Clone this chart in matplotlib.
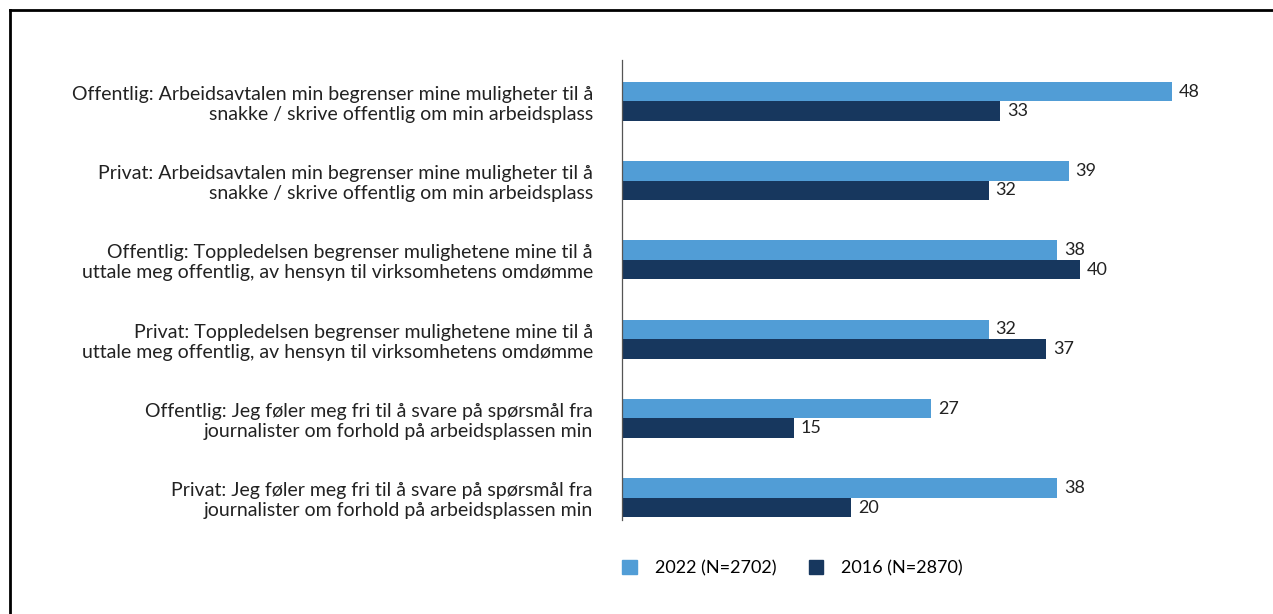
import matplotlib.pyplot as plt
from matplotlib.patches import Patch
from matplotlib.lines import Line2D
import numpy as np

plt.rcParams['font.family'] = ['Lato', 'DejaVu Sans']

labels = [
    "Offentlig: Arbeidsavtalen min begrenser mine muligheter til å\nsnakke / skrive offentlig om min arbeidsplass",
    "Privat: Arbeidsavtalen min begrenser mine muligheter til å\nsnakke / skrive offentlig om min arbeidsplass",
    "Offentlig: Toppledelsen begrenser mulighetene mine til å\nuttale meg offentlig, av hensyn til virksomhetens omdømme",
    "Privat: Toppledelsen begrenser mulighetene mine til å\nuttale meg offentlig, av hensyn til virksomhetens omdømme",
    "Offentlig: Jeg føler meg fri til å svare på spørsmål fra\njournalister om forhold på arbeidsplassen min",
    "Privat: Jeg føler meg fri til å svare på spørsmål fra\njournalister om forhold på arbeidsplassen min",
]
vals_2022 = [48, 39, 38, 32, 27, 38]
vals_2016 = [33, 32, 40, 37, 15, 20]
series_names = ["2022 (N=2702)", "2016 (N=2870)"]

c_light = "#519dd6"
c_dark = "#17375e"
W, H = 1273, 614

fig = plt.figure(figsize=(W / 100, H / 100), dpi=100)
ax = fig.add_axes([622 / W, 1 - 520 / H, 630 / W, 460 / H])

y = np.arange(len(labels))
h = 0.245
ax.barh(y - h / 2, vals_2022, height=h, color=c_light)
ax.barh(y + h / 2, vals_2016, height=h, color=c_dark)

for yi, v in zip(y, vals_2022):
    ax.text(v + 0.6, yi - h / 2, str(v), va="center", ha="left", fontsize=13, color="#222222")
for yi, v in zip(y, vals_2016):
    ax.text(v + 0.6, yi + h / 2, str(v), va="center", ha="left", fontsize=13, color="#222222")

ax.set_xlim(0, 55)
ax.set_ylim(5.28, -0.52)
ax.set_yticks(y)
ax.set_yticklabels(labels, fontsize=14, color="#222222", linespacing=1.22)
ax.tick_params(axis="y", length=0, pad=21)
ax.set_xticks([])
for s in ["top", "right", "bottom"]:
    ax.spines[s].set_visible(False)
ax.spines["left"].set_color("#555555")
ax.spines["left"].set_linewidth(0.9)

handles = [Patch(color=c_light), Patch(color=c_dark)]
fig.legend(handles, series_names, loc="center left", bbox_to_anchor=(606 / W, 1 - 568 / H),
           ncol=2, frameon=False, fontsize=13, handlelength=0.8, handleheight=0.8,
           handletextpad=1.0, columnspacing=1.8)

# border lines (left and top)
fig.add_artist(Line2D([10 / W, 10 / W], [0, 1 - 10 / H], color="black", lw=2))
fig.add_artist(Line2D([10 / W, 1], [1 - 10 / H, 1 - 10 / H], color="black", lw=2))

fig.savefig("out.png", dpi=100)
